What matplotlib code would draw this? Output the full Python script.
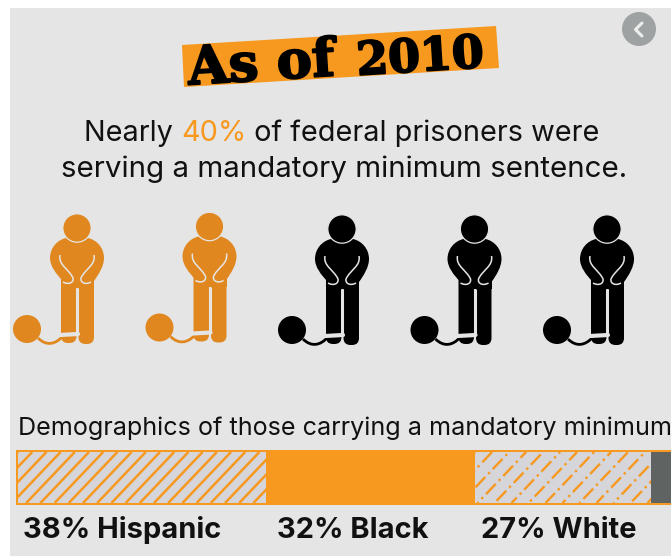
import numpy as np
import matplotlib
matplotlib.use("Agg")
import matplotlib.pyplot as plt
from matplotlib.patches import Rectangle, Polygon, Circle, PathPatch, FancyBboxPatch
from matplotlib.path import Path
import matplotlib.patheffects as pe

# Infographic data
title_words = "As of"
title_year = "2010"
headline_parts = [("Nearly ", "ink"), ("40%", "orange"), (" of federal prisoners were", "ink")]
headline_second = "serving a mandatory minimum sentence."
subhead = "Demographics of those carrying a mandatory minimum"
figure_total = 5
figure_highlighted = 2
group_names = ["Hispanic", "Black", "White", "Other"]
group_shares = [38, 32, 27, 3]
group_labels = ["38% Hispanic", "32% Black", "27% White"]

WIDTH, HEIGHT, DPI = 671, 556, 100
COLORS = {"ink": "#111111", "orange": "#f7981f"}
PANEL = "#e5e5e5"
FIGURE_ORANGE = "#e0881f"
HATCH_BG = "#d5d5da"
OTHER_GREY = "#5f6362"
BODY_FONT = ["Inter", "DejaVu Sans"]

fig = plt.figure(figsize=(WIDTH / DPI, HEIGHT / DPI), dpi=DPI, facecolor="white")
ax = fig.add_axes([0, 0, 1, 1])
ax.set_xlim(0, WIDTH)
ax.set_ylim(HEIGHT, 0)
ax.axis("off")

# Grey panel behind everything, leaving a white strip left and top
ax.add_patch(Rectangle((10, 8), WIDTH - 10, HEIGHT - 8, fc=PANEL, ec="none"))

# Back button
ax.add_patch(Circle((639, 29), 17, fc="#9ea2a2", ec="none"))
ax.plot([642, 635.5, 642], [23, 29.5, 36], color="#eeeeee", lw=2.2,
        solid_capstyle="round", solid_joinstyle="round")

# Title banner, tilted, with small year figures
ax.add_patch(Polygon([(182, 45), (496, 26), (499, 68), (184, 87)], fc=COLORS["orange"], ec="none"))
title_style = dict(family="DejaVu Serif", weight="bold", color="black", ha="center", va="baseline",
                   rotation=3.6, rotation_mode="anchor",
                   path_effects=[pe.withStroke(linewidth=1.4, foreground="black")])
ax.text(262, 80, title_words, fontsize=38, **title_style)
ax.text(421, 71, title_year, fontsize=33, **title_style)

# Headline with one coloured word
renderer = fig.canvas.get_renderer()
first_line_size = 20.8
second_line_size = 21.3
x_cursor = 84
for part, colour_key in headline_parts:
    t = ax.text(x_cursor, 133.5, part.replace(" ", "\u00a0"), family=BODY_FONT, fontsize=first_line_size,
                color=COLORS[colour_key], ha="left", va="center")
    x_cursor += t.get_window_extent(renderer).width
ax.text(344.5, 169, headline_second, family=BODY_FONT, fontsize=second_line_size, color=COLORS["ink"],
        ha="center", va="center")


def draw_figure(cx, cy, colour):
    """One standing figure with ball and chain; cx, cy is the head centre."""
    def P(x, y):
        return (cx + x, cy + y)

    # Chain, behind the ball and leg
    chain = Path([P(-39, 110), P(-31, 118), P(-22, 117), P(-14, 108)],
                 [Path.MOVETO, Path.CURVE4, Path.CURVE4, Path.CURVE4])
    ax.add_patch(PathPatch(chain, fc="none", ec=colour, lw=2))
    ax.add_patch(Circle(P(-50, 101), 14, fc=colour, ec="none"))

    # Legs
    ax.add_patch(FancyBboxPatch(P(-16, 45), 15.5, 70, boxstyle="round,pad=0,rounding_size=7",
                                fc=colour, ec="none"))
    ax.add_patch(FancyBboxPatch(P(1.5, 45), 15.5, 71, boxstyle="round,pad=0,rounding_size=7",
                                fc=colour, ec="none"))
    ax.add_patch(Rectangle(P(-16, 45), 33, 15, fc=colour, ec="none"))

    # Torso with shoulders and elbows
    torso = Path(
        [P(-11, 10), P(-20, 12), P(-27, 20), P(-27, 30), P(-27, 38), P(-21, 46), P(-14, 53),
         P(0, 56), P(14, 56), P(17, 53), P(22, 46), P(27, 38), P(27, 30), P(27, 20), P(20, 12),
         P(11, 10), P(-11, 10)],
        [Path.MOVETO] + [Path.CURVE4] * 15 + [Path.CLOSEPOLY])
    ax.add_patch(PathPatch(torso, fc=colour, ec="none"))

    # Light outlines of head, arms, hands, leg gap and ankle cuff
    ax.add_patch(Circle(P(0, 0), 14.2, fc=colour, ec=PANEL, lw=0.9))
    for side in (-1, 1):
        arm = Path([P(side * 17, 27), P(side * 19, 37), P(side * 8, 41), P(side * 4, 50),
                    P(side * 3, 55), P(side * 9, 57), P(side * 14, 54)],
                   [Path.MOVETO] + [Path.CURVE4] * 6)
        ax.add_patch(PathPatch(arm, fc="none", ec=PANEL, lw=1.1))
    ax.plot([cx, cx], [cy + 60, cy + 106], color=PANEL, lw=2.2, solid_capstyle="butt")
    ax.plot([cx - 17, cx + 1], [cy + 107, cy + 106], color=PANEL, lw=3, solid_capstyle="round")


figure_xs = np.linspace(77, 607, figure_total)
figure_ys = [228, 226.5, 229, 229, 229]
for i, (fx, fy) in enumerate(zip(figure_xs, figure_ys)):
    draw_figure(fx, fy, FIGURE_ORANGE if i < figure_highlighted else "black")

# Subheading
ax.text(18, 428, subhead, family=BODY_FONT, fontsize=18.1, color=COLORS["ink"], ha="left", va="center")

# Stacked share bar
bar_x0 = 18
bar_top, bar_h = 452, 51
px_per_pct = 6.53
lefts = bar_x0 + np.concatenate([[0], np.cumsum(group_shares)[:-1]]) * px_per_pct
widths = np.array(group_shares) * px_per_pct
ax.add_patch(Rectangle((16, 450), WIDTH - 16, 55, fc=COLORS["orange"], ec="none"))


def hatched_segment(left, width, dashes=None):
    seg = Rectangle((left, bar_top), width, bar_h, fc=HATCH_BG, ec="none")
    ax.add_patch(seg)
    spacing = 14.2 if dashes is None else 17.0
    slope = 1.05
    run = bar_h / slope
    for k, start in enumerate(np.arange(left - spacing, left + width + run + spacing, spacing)):
        line, = ax.plot([start - run, start], [bar_top + bar_h, bar_top], color=COLORS["orange"],
                        lw=1.8 if dashes is None else 1.7, solid_capstyle="butt", dash_capstyle="butt")
        if dashes is not None:
            line.set_linestyle((k * 4.0, dashes))
        line.set_clip_path(seg)


hatched_segment(lefts[0], widths[0])
hatched_segment(lefts[2], widths[2], dashes=(6, 1.8, 1, 1.8))
ax.add_patch(Rectangle((lefts[3], bar_top), WIDTH - lefts[3], bar_h, fc=OTHER_GREY, ec="none"))

# Share labels under the bar
for label, lx in zip(group_labels, [23, 277, 481]):
    ax.text(lx, 530, label, family=BODY_FONT, weight="bold", fontsize=20.9, color="#111111",
            ha="left", va="center")

fig.savefig("out.png", dpi=DPI, facecolor="white")
